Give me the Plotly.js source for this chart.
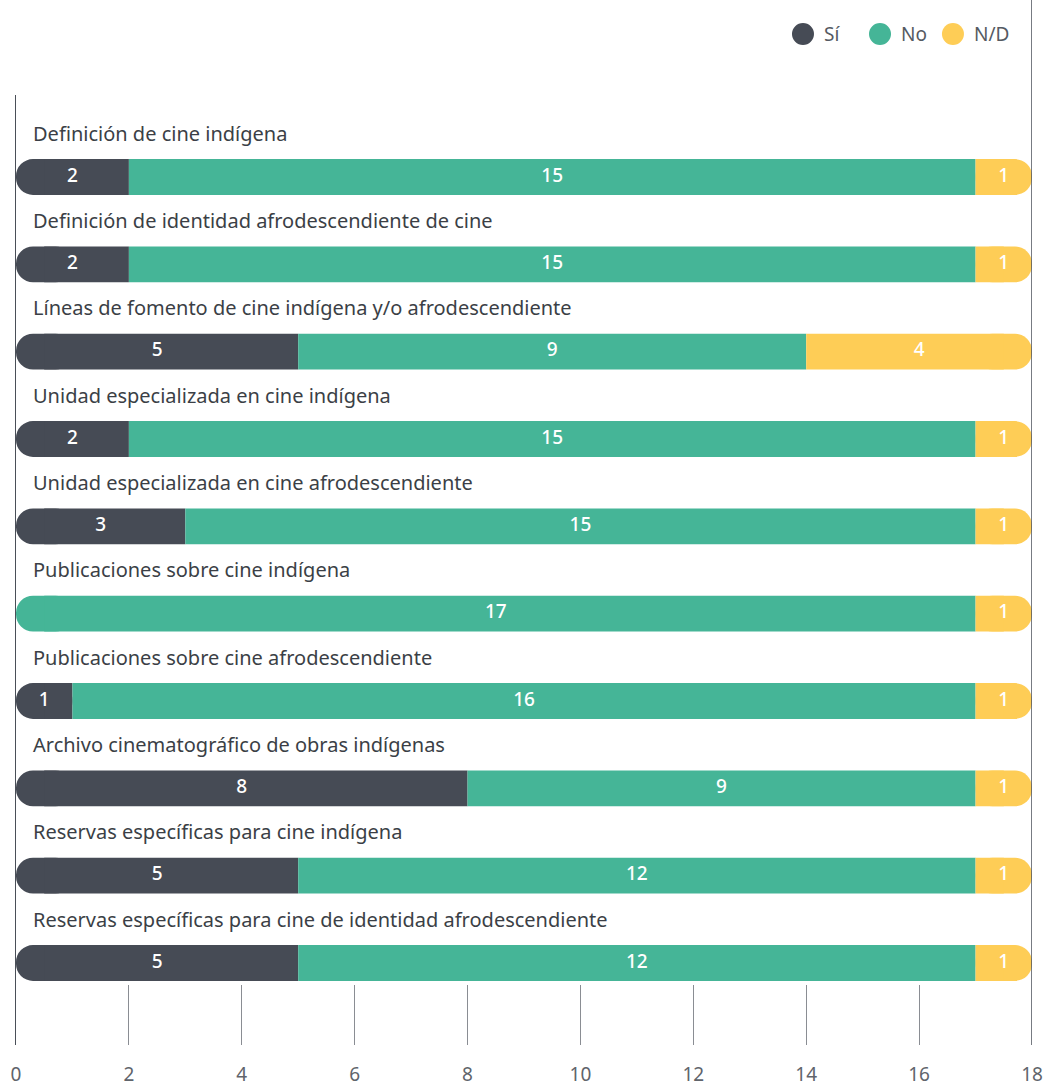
<!DOCTYPE html>
<html>
<head>
<meta charset="utf-8">
<script src="https://cdn.plot.ly/plotly-3.0.1.min.js"></script>
<style>html,body{margin:0;padding:0;background:#fff}#chart{width:1054px;height:1086px}</style>
</head>
<body>
<div id="chart"></div>
<script>
// ---- Data ----
const categories = [
  "Definición de cine indígena",
  "Definición de identidad afrodescendiente de cine",
  "Líneas de fomento de cine indígena y/o afrodescendiente",
  "Unidad especializada en cine indígena",
  "Unidad especializada en cine afrodescendiente",
  "Publicaciones sobre cine indígena",
  "Publicaciones sobre cine afrodescendiente",
  "Archivo cinematográfico de obras indígenas",
  "Reservas específicas para cine indígena",
  "Reservas específicas para cine de identidad afrodescendiente"
];
const si = [2, 2, 5, 2, 3, 0, 1, 8, 5, 5];
// the source draws the 5th "No" bar 14 units long but prints "15" on it
const no = [15, 15, 9, 15, 14, 17, 16, 9, 12, 12];
const noPrinted = [15, 15, 9, 15, 15, 17, 16, 9, 12, 12];
const nd = [1, 1, 4, 1, 1, 1, 1, 1, 1, 1];
const seriesNames = ["Sí", "No", "N/D"];
const xTicks = [0, 2, 4, 6, 8, 10, 12, 14, 16, 18];

// ---- Style ----
const C_SI = "#464b55", C_NO = "#45b597", C_ND = "#fecd56";
const FONT = "Noto Sans, Roboto, sans-serif";
const BAR_W = 0.41;
const CAP = 1.0;     // length (axis units) of the rounded end caps
const INSET = 0.5;   // square segments start/stop this far inside the ends

const noEnd = si.map((v, i) => v + no[i]);
const total = noEnd.map((v, i) => v + nd[i]);

const common = {type: "bar", orientation: "h", y: categories, width: BAR_W, hoverinfo: "skip", showlegend: false};
const labelFont = {color: "#fff", size: 19, family: FONT, weight: 500};
const traces = [
  // rounded left cap, coloured as the first non-empty segment
  Object.assign({}, common, {base: si.map(() => CAP), x: si.map(() => -CAP),
    marker: {color: si.map(v => v > 0 ? C_SI : C_NO), cornerradius: 18}}),
  // rounded right cap (N/D)
  Object.assign({}, common, {base: total.map(t => t - CAP), x: total.map(() => CAP),
    marker: {color: C_ND, cornerradius: 18}}),
  // square segments
  Object.assign({}, common, {base: si.map(() => INSET), x: si.map(v => v > 0 ? v - INSET : 0),
    marker: {color: C_SI, cornerradius: 0}}),
  Object.assign({}, common, {base: si.map(v => Math.max(v, INSET)), x: si.map((v, i) => noEnd[i] - Math.max(v, INSET)),
    marker: {color: C_NO, cornerradius: 0}}),
  Object.assign({}, common, {base: noEnd, x: nd.map(v => v - INSET),
    marker: {color: C_ND, cornerradius: 0}}),
  // value labels
  {type: "scatter", mode: "text", y: categories, x: si.map(v => v / 2),
   text: si.map(v => v ? String(v) : ""), textposition: "middle center",
   textfont: labelFont, hoverinfo: "skip", showlegend: false},
  {type: "scatter", mode: "text", y: categories, x: si.map((v, i) => v + no[i] / 2),
   text: noPrinted.map(v => v ? String(v) : ""), textposition: "middle center",
   textfont: labelFont, hoverinfo: "skip", showlegend: false},
  {type: "scatter", mode: "text", y: categories, x: noEnd.map((v, i) => v + nd[i] / 2),
   text: nd.map(v => v ? String(v) : ""), textposition: "middle center",
   textfont: labelFont, hoverinfo: "skip", showlegend: false}
];

const annotations = categories.map(c => ({
  x: 0, xref: "x", y: c, yref: "y", xanchor: "left", yanchor: "middle",
  xshift: 15, yshift: 44, text: c, showarrow: false,
  font: {size: 20, color: "#3b3f46", family: FONT}
}));

// custom legend (circles + text)
const legendX = [0.7746, 0.8504, 0.9222];
const legendColors = [C_SI, C_NO, C_ND];
const legendY = 1.0642;
const shapes = [];
legendX.forEach((lx, i) => {
  shapes.push({type: "circle", xref: "paper", yref: "paper", xsizemode: "pixel", ysizemode: "pixel",
    xanchor: lx, yanchor: legendY, x0: -11, x1: 11, y0: -11, y1: 11,
    fillcolor: legendColors[i], line: {width: 0}});
  annotations.push({xref: "paper", yref: "paper", x: lx, y: legendY, xshift: 19,
    xanchor: "left", yanchor: "middle", text: seriesNames[i], showarrow: false,
    font: {size: 19, color: "#555a62", family: FONT}});
});
// right frame line at the axis maximum
shapes.push({type: "line", xref: "x", yref: "paper", x0: xTicks[xTicks.length - 1], x1: xTicks[xTicks.length - 1],
  y0: 0, y1: 1.1, line: {color: "#4a4f58", width: 1.5}});

const layout = {
  width: 1054, height: 1086,
  margin: {l: 16, r: 22, t: 95, b: 41},
  paper_bgcolor: "#fff", plot_bgcolor: "#fff",
  barmode: "overlay",
  showlegend: false,
  font: {family: FONT},
  xaxis: {range: [0, 18], tickvals: xTicks, ticktext: xTicks.map(String),
    ticks: "inside", ticklen: 60, tickcolor: "#8a8d93", tickwidth: 1,
    showgrid: false, zeroline: false, showline: false,
    ticklabelstandoff: 16,
    tickfont: {size: 19, color: "#60646b", family: FONT}, fixedrange: true},
  yaxis: {type: "category", categoryorder: "array", categoryarray: categories,
    range: [9.939, -0.939], autorange: false, showticklabels: false,
    showgrid: false, zeroline: false, showline: true, linecolor: "#4a4f58", linewidth: 1.5,
    ticks: "", fixedrange: true},
  annotations: annotations,
  shapes: shapes
};

Plotly.newPlot("chart", traces, layout, {displayModeBar: false, staticPlot: true});
</script>
</body>
</html>
